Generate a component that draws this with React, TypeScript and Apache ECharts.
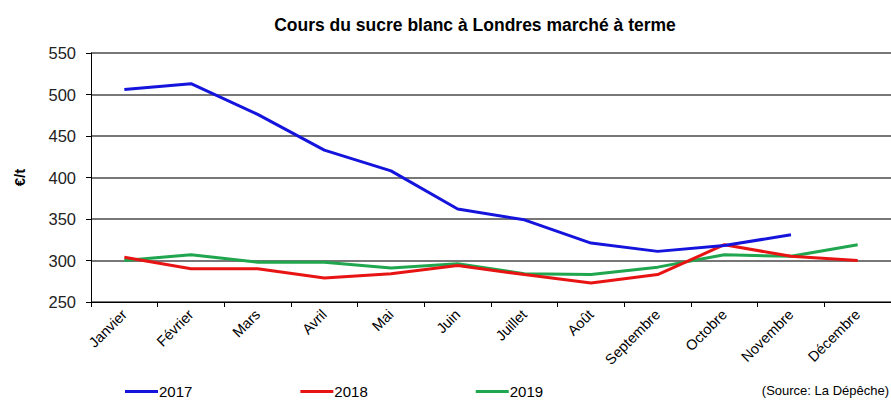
import React, { useEffect, useRef } from "react";
import * as echarts from "echarts";

const months = ["Janvier", "Février", "Mars", "Avril", "Mai", "Juin", "Juillet", "Août", "Septembre", "Octobre", "Novembre", "Décembre"];
const s2017 = [506, 513, 476, 433, 408, 362, 349, 321, 311, 318, 331, null];
const s2018 = [304, 290, 290, 279, 284, 294, 283, 273, 283, 319, 305, 300];
const s2019 = [300, 307, 298, 298, 291, 296, 284, 283, 292, 307, 305, 319];
const seriesNames = ["2017", "2018", "2019"];
const titleText = "Cours du sucre blanc à Londres marché à terme";
const yAxisName = "€/t";
const sourceText = "(Source: La Dépêche)";

const FONT = "'Liberation Sans', Arial, sans-serif";

export default function App() {
  const ref = useRef<HTMLDivElement>(null);
  useEffect(() => {
    if (!ref.current) return;
    const chart = echarts.init(ref.current, undefined, { renderer: "svg" });
    const colors = ["#1414dc", "#e81414", "#20a64e"];
    const data = [s2017, s2018, s2019];
    chart.setOption({
      animation: false,
      backgroundColor: "#ffffff",
      title: {
        text: titleText,
        left: 470,
        textAlign: "center",
        top: 11,
        textStyle: { fontFamily: FONT, fontSize: 17.5, fontWeight: "bold", color: "#000" },
      },
      legend: {
        data: seriesNames,
        left: 120,
        top: 379,
        itemWidth: 33,
        itemHeight: 3,
        itemGap: 108,
        icon: "rect",
        textStyle: { fontFamily: FONT, fontSize: 15, color: "#000", padding: [0, 0, 0, -4] },
      },
      graphic: [
        {
          type: "text",
          right: 2,
          top: 384,
          style: { text: sourceText, font: `13px ${FONT}`, fill: "#000" },
        },
      ],
      grid: { left: 91, right: -2, top: 53, bottom: 98 },
      xAxis: {
        type: "category",
        data: months,
        boundaryGap: true,
        axisLine: { lineStyle: { color: "#000", width: 1 } },
        axisTick: { show: true, length: 5, lineStyle: { color: "#000" } },
        axisLabel: { rotate: 45, fontFamily: FONT, fontSize: 14.5, color: "#000", margin: 10, interval: 0 },
      },
      yAxis: {
        type: "value",
        min: 250,
        max: 550,
        interval: 50,
        name: yAxisName,
        nameLocation: "middle",
        nameGap: 64,
        nameRotate: 90,
        nameTextStyle: { fontFamily: FONT, fontSize: 15, fontWeight: "bold", color: "#000" },
        axisLine: { show: true, lineStyle: { color: "#000", width: 1 } },
        axisTick: { show: true, length: 5, inside: false, lineStyle: { color: "#000" } },
        axisLabel: { fontFamily: FONT, fontSize: 16.5, color: "#222", margin: 15 },
        splitLine: { show: true, lineStyle: { color: "#4a4a4a", width: 1.5 } },
      },
      series: data.map((d, i) => ({
        name: seriesNames[i],
        type: "line",
        data: d,
        showSymbol: false,
        symbol: "none",
        connectNulls: false,
        lineStyle: { color: colors[i], width: 3 },
        itemStyle: { color: colors[i] },
        z: 3 - i,
      })),
    });
    return () => chart.dispose();
  }, []);
  return (
    <div
      ref={ref}
      style={{ position: "absolute", left: 0, top: 0, width: 891, height: 400 }}
    />
  );
}
